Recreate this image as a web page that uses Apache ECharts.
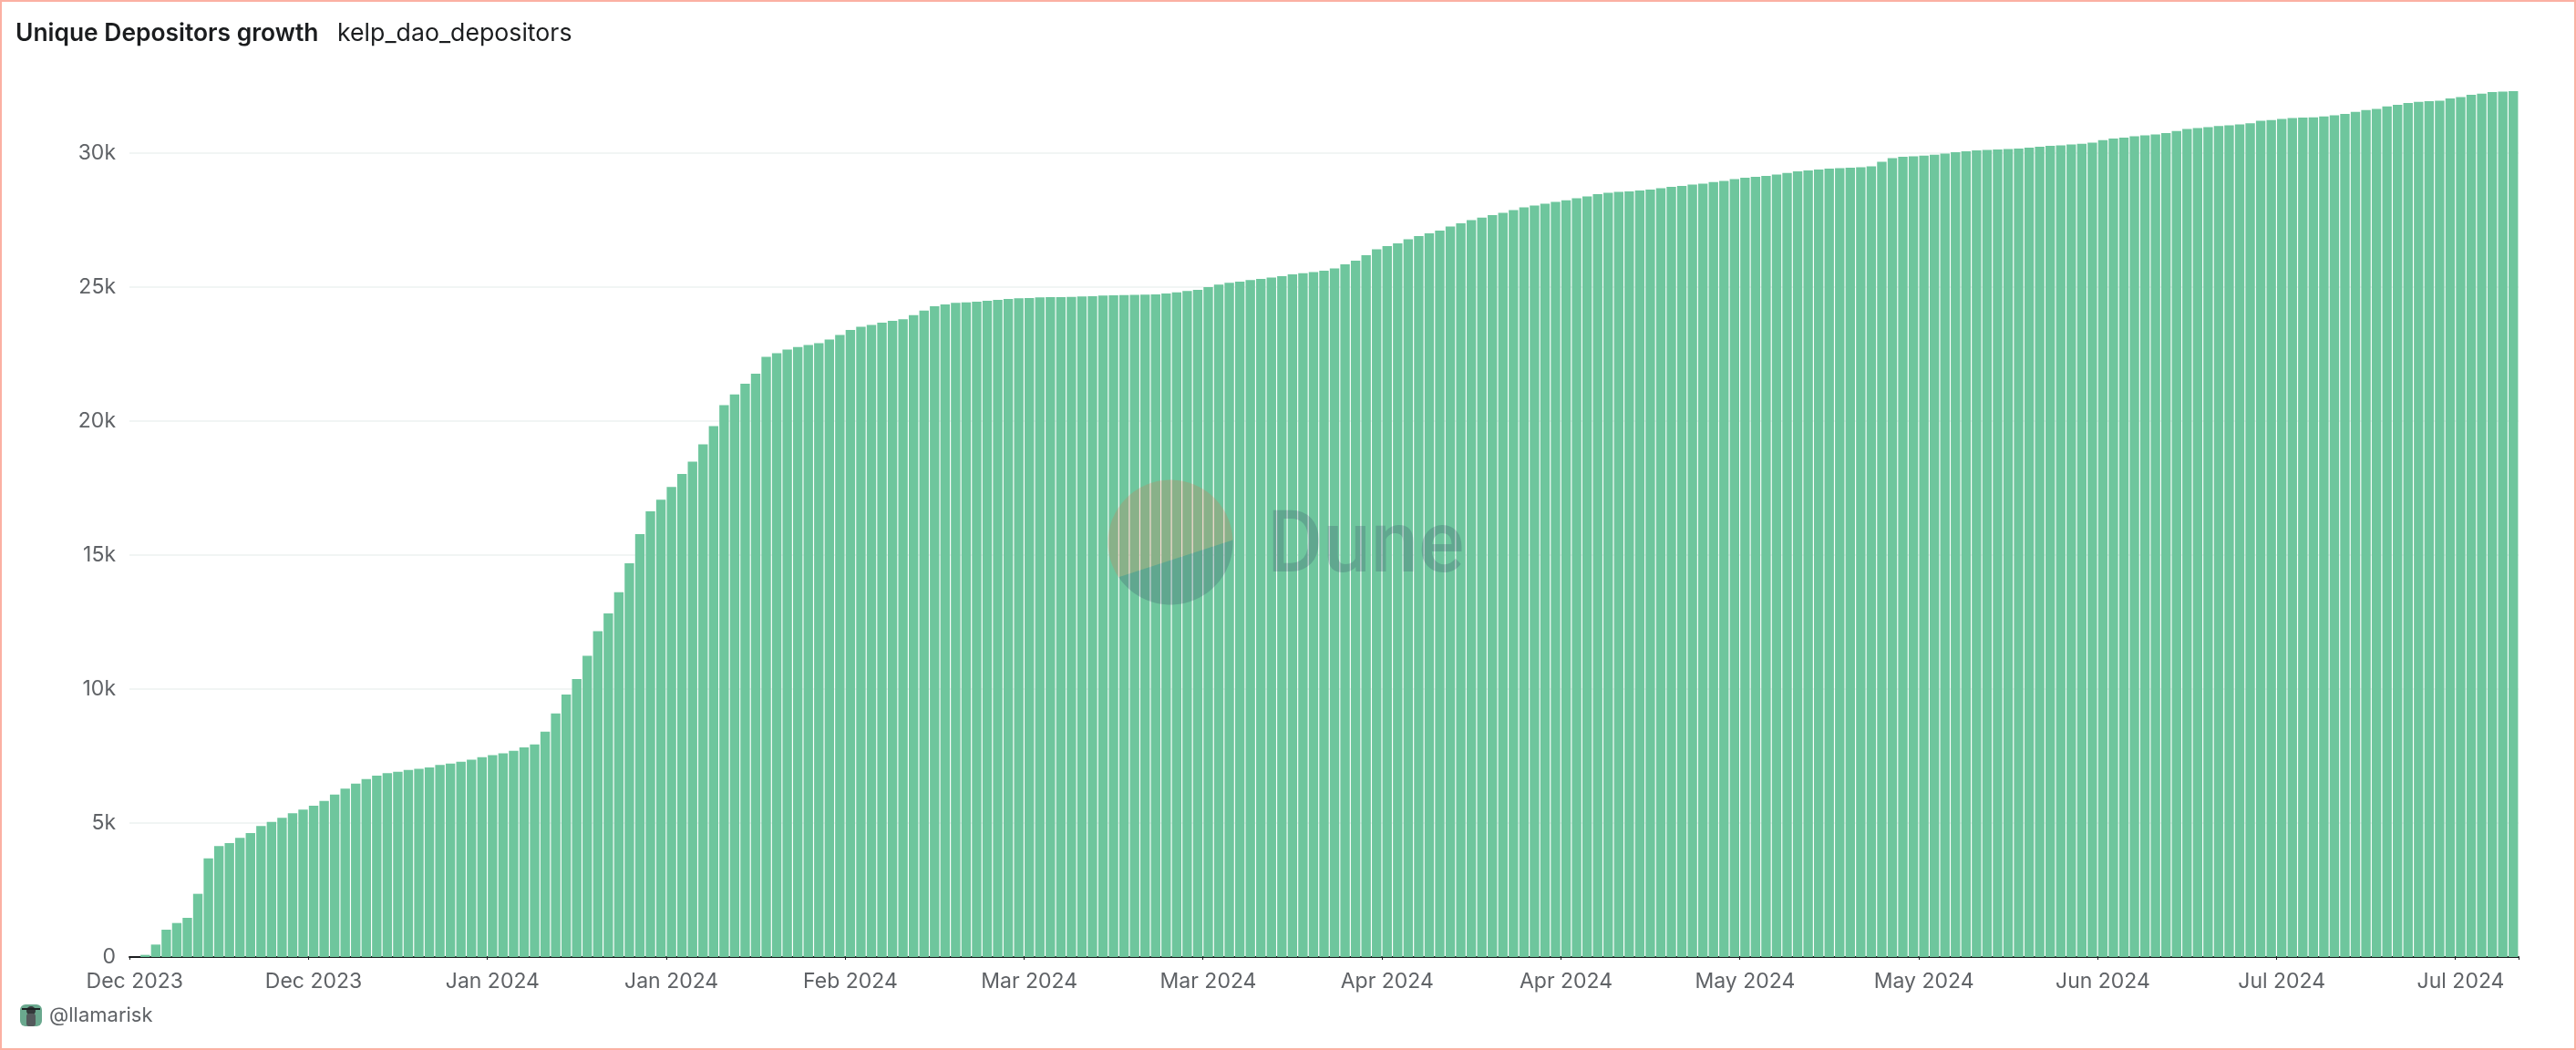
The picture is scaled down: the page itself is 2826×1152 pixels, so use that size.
<!DOCTYPE html>
<html>
<head>
<meta charset="utf-8">
<title>Unique Depositors growth</title>
<script src="https://cdn.jsdelivr.net/npm/echarts@6/dist/echarts.min.js"></script>
<style>
  html, body { margin: 0; padding: 0; background: #fff; }
  #container { width: 2826px; height: 1152px; }
</style>
</head>
<body>
<div id="container"></div>
<script>
const chartTitle = 'Unique Depositors growth';
const chartSubtitle = 'kelp_dao_depositors';
const author = '@llamarisk';
const monthNames = ['Jan', 'Feb', 'Mar', 'Apr', 'May', 'Jun', 'Jul', 'Aug', 'Sep', 'Oct', 'Nov', 'Dec'];
const firstDay = '2023-12-10';

// cumulative unique depositors per day
const depositors = [
  0, 80, 465, 1020, 1270, 1463, 2359, 3685, 4140, 4250,
  4445, 4627, 4888, 5046, 5194, 5364, 5500, 5647, 5829, 6067,
  6282, 6475, 6645, 6770, 6860, 6917, 6985, 7020, 7076, 7167,
  7223, 7288, 7367, 7458, 7537, 7605, 7696, 7820, 7934, 8410,
  9091, 9794, 10372, 11245, 12164, 12822, 13615, 14693, 15781, 16632,
  17063, 17539, 18027, 18490, 19134, 19815, 20597, 20994, 21391, 21765,
  22400, 22537, 22673, 22763, 22843, 22911, 23048, 23218, 23400, 23524,
  23592, 23672, 23740, 23802, 23955, 24127, 24285, 24353, 24410, 24433,
  24455, 24489, 24523, 24557, 24580, 24592, 24614, 24625, 24630, 24637,
  24648, 24660, 24682, 24693, 24705, 24708, 24716, 24728, 24762, 24807,
  24852, 24898, 25000, 25090, 25158, 25204, 25260, 25306, 25355, 25406,
  25474, 25519, 25565, 25610, 25700, 25848, 25984, 26188, 26415, 26528,
  26630, 26789, 26903, 27005, 27107, 27266, 27379, 27504, 27594, 27685,
  27776, 27878, 27980, 28048, 28116, 28184, 28241, 28320, 28388, 28468,
  28524, 28558, 28570, 28604, 28638, 28694, 28740, 28774, 28830, 28864,
  28921, 28966, 29028, 29078, 29112, 29147, 29203, 29260, 29317, 29351,
  29385, 29419, 29441, 29453, 29475, 29509, 29680, 29816, 29861, 29884,
  29906, 29940, 29986, 30031, 30065, 30099, 30122, 30133, 30156, 30167,
  30201, 30235, 30269, 30292, 30326, 30349, 30394, 30485, 30541, 30575,
  30632, 30666, 30700, 30745, 30825, 30904, 30938, 30971, 31016, 31039,
  31073, 31118, 31209, 31232, 31277, 31311, 31323, 31334, 31368, 31413,
  31459, 31538, 31606, 31651, 31742, 31799, 31867, 31912, 31935, 31958,
  32037, 32094, 32173, 32218, 32275, 32298, 32309
];

const days = depositors.map((v, i) => {
  const d = new Date(firstDay + 'T00:00:00Z');
  d.setUTCDate(d.getUTCDate() + i);
  return d.toISOString().slice(0, 10);
});

const textFont = 'Inter';
const barColor = '#6bc59b';
const labelColor = '#5f6266';

// arc of the logo circle as a polygon, angles in degrees
const arcPoints = (cx, cy, r, from, to) => {
  const pts = [];
  for (let a = from; a <= to; a += 2) {
    pts.push([cx + r * Math.cos(a * Math.PI / 180), cy + r * Math.sin(a * Math.PI / 180)]);
  }
  return pts;
};

const myChart = echarts.init(document.getElementById('container'), null, { renderer: 'canvas' });

myChart.setOption({
  animation: false,
  backgroundColor: '#fff',
  textStyle: { fontFamily: textFont },
  grid: { left: 142, right: 63, top: 21, bottom: 102, containLabel: false },
  xAxis: {
    type: 'category',
    data: days,
    axisLine: { show: true, lineStyle: { color: '#1b1d1f', width: 2 } },
    axisTick: { show: true, length: 3, lineStyle: { color: '#1b1d1f', width: 1 } },
    axisLabel: {
      interval: 16,
      margin: 16,
      fontSize: 23,
      fontFamily: textFont,
      color: labelColor,
      formatter: (v) => monthNames[+v.slice(5, 7) - 1] + ' ' + v.slice(0, 4)
    }
  },
  yAxis: {
    type: 'value',
    min: 0,
    max: 35000,
    interval: 5000,
    axisLine: { show: false },
    axisTick: { show: false },
    splitLine: { show: true, showMaxLine: false, lineStyle: { color: '#f1f5f4', width: 2 } },
    axisLabel: {
      showMaxLabel: false,
      margin: 15,
      fontSize: 23,
      fontFamily: textFont,
      color: labelColor,
      formatter: (v) => (v === 0 ? '0' : v / 1000 + 'k')
    }
  },
  series: [
    {
      name: 'depositors',
      type: 'bar',
      data: depositors,
      barCategoryGap: '10%',
      itemStyle: { color: barColor, opacity: 0.98 }
    }
  ],
  graphic: [
    // outer frame of the screenshot
    { type: 'rect', z: 100, shape: { x: 1, y: 1, width: 2824, height: 1150 }, style: { fill: 'none', stroke: '#fbb0a3', lineWidth: 2 } },
    // header
    { type: 'text', z: 100, x: 17, y: 37, style: { text: chartTitle, font: '600 26.4px ' + textFont, fill: '#1b1d1f', textVerticalAlign: 'middle' } },
    { type: 'text', z: 100, x: 370, y: 37, style: { text: chartSubtitle, font: '400 26.7px ' + textFont, fill: '#1b1d1f', textVerticalAlign: 'middle' } },
    // footer
    { type: 'rect', z: 100, shape: { x: 22, y: 1102, width: 24, height: 24, r: 6 }, style: { fill: '#6aa88e' } },
    { type: 'circle', z: 101, shape: { cx: 34, cy: 1109, r: 5 }, style: { fill: '#33383a' } },
    { type: 'rect', z: 101, shape: { x: 24, y: 1106, width: 20, height: 2 }, style: { fill: '#1e2224' } },
    { type: 'rect', z: 101, shape: { x: 29, y: 1112, width: 10, height: 14, r: 3 }, style: { fill: '#54595c' } },
    { type: 'text', z: 100, x: 54, y: 1114, style: { text: author, font: '400 22px ' + textFont, fill: labelColor, textVerticalAlign: 'middle' } },
    // Dune watermark
    { type: 'polygon', z: 50, shape: { points: arcPoints(1284, 595, 68.5, 146, 358) }, style: { fill: 'rgba(244,96,62,0.2)' } },
    { type: 'polygon', z: 50, shape: { points: arcPoints(1284, 595, 68.5, -2, 146) }, style: { fill: 'rgba(42,47,90,0.2)' } },
    { type: 'text', z: 50, x: 1390, y: 603, style: { text: 'Dune', font: '500 94px Roboto', fill: 'rgba(42,47,90,0.2)', textVerticalAlign: 'middle' } }
  ]
});
</script>
</body>
</html>
